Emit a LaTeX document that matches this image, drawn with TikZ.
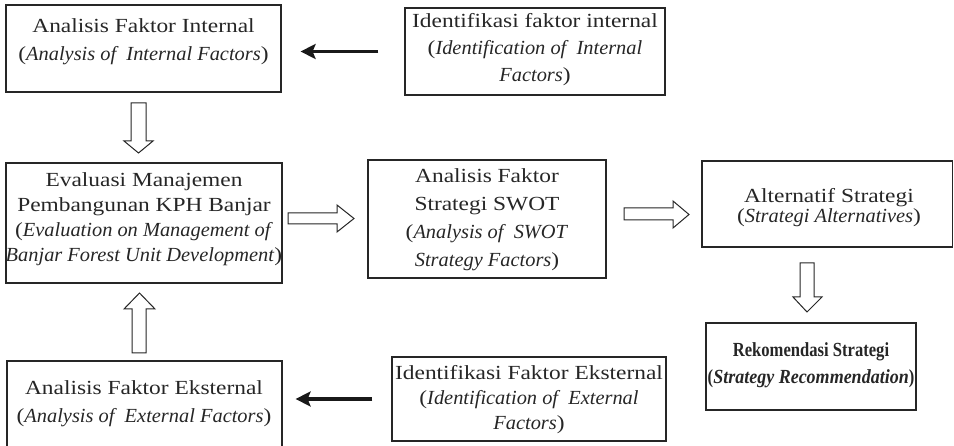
\documentclass[tikz,border=0pt]{standalone}
\usepackage{fontspec}
\setmainfont{Liberation Serif}[UprightFeatures={FakeStretch=1.17},ItalicFeatures={FakeStretch=1.02}]
\newfontfamily\rekfont{Liberation Serif}[BoldFeatures={FakeStretch=0.83},BoldItalicFeatures={FakeStretch=0.9}]
\usetikzlibrary{arrows.meta}
\newcommand{\mylines}[1]{\begin{tabular}[t]{@{}c@{}}#1\end{tabular}}
\begin{document}
\begin{tikzpicture}[x=1pt,y=-1pt,
  box/.style={draw=black!85,line width=1.2pt,inner sep=0pt,fill=none},
  txt/.style={inner sep=0pt,anchor=base,text=black!85},
  blk/.style={line width=3.6pt,draw=black!90,-{Stealth[length=15pt,width=15pt,inset=3pt]}},
  hol/.style={draw=black!85,line width=1pt,fill=white,line join=miter}]
\useasboundingbox (0,0) rectangle (954,446);
% boxes
\node[box,minimum width=275,minimum height=87] (b1) at (143.5,48.5) {};
\node[box,minimum width=260,minimum height=87] (b2) at (535,51.5) {};
\node[box,minimum width=276,minimum height=120] (b3) at (144,223) {};
\node[box,minimum width=238,minimum height=118] (b4) at (487,219) {};
\node[box,minimum width=250.5,minimum height=86] (b5) at (827.25,204) {};
\node[box,minimum width=210,minimum height=87] (b6) at (811,366.5) {};
\node[box,minimum width=275,minimum height=100] (b7) at (144.5,411) {};
\node[box,minimum width=274,minimum height=84] (b8) at (529,399) {};
% texts
\node[txt,font={\fontsize{20}{28}\selectfont}] (t1) at (143.5,33)
  {\mylines{Analisis Faktor Internal\\(\textit{Analysis of\ \ Internal Factors})}};
\node[txt,font={\fontsize{20}{27}\selectfont}] (t2) at (535,28)
  {\mylines{Identifikasi faktor internal\\(\textit{Identification of\ \ Internal}\\\textit{Factors})}};
\node[txt,font={\fontsize{20}{25}\selectfont}] (t3) at (144,187)
  {\mylines{Evaluasi Manajemen\\Pembangunan KPH Banjar\\(\textit{Evaluation on Management of}\\\textit{Banjar Forest Unit Development})}};
\node[txt,font={\fontsize{20}{28}\selectfont}] (t4) at (487,183)
  {\mylines{Analisis Faktor\\Strategi SWOT\\(\textit{Analysis of\ \ SWOT}\\\textit{Strategy Factors})}};
\node[txt,font={\fontsize{20}{20}\selectfont}] (t5) at (829,203)
  {\mylines{Alternatif Strategi\\(\textit{Strategi Alternatives})}};
\node[txt,font={\fontsize{20}{27}\selectfont\rekfont\bfseries}] (t6) at (811,357)
  {\mylines{Rekomendasi Strategi\\(\textit{Strategy Recommendation})}};
\node[txt,font={\fontsize{20}{28}\selectfont}] (t7) at (144,395)
  {\mylines{Analisis Faktor Eksternal\\(\textit{Analysis of\ \ External Factors})}};
\node[txt,font={\fontsize{20}{25}\selectfont}] (t8) at (529,380)
  {\mylines{Identifikasi Faktor Eksternal\\(\textit{Identification of\ \ External}\\\textit{Factors})}};
% black arrows
\draw[blk,shorten <=26pt,shorten >=19pt] (b2.west) -- (b2.west -| b1.east);
\draw[blk,shorten <=19pt,shorten >=13pt] (b8.west) -- (b8.west -| b7.east);
% hollow block arrows
\draw[hol] (131,103) -- (146,103) -- (146,141) -- (153,141) -- (138.5,153) -- (124,141) -- (131,141) -- cycle;
\draw[hol] (132,353) -- (146,353) -- (146,309) -- (155,309) -- (139.5,293) -- (124,309) -- (132,309) -- cycle;
\draw[hol] (288,213) -- (337,213) -- (337,205) -- (354,218.5) -- (337,232) -- (337,224) -- (288,224) -- cycle;
\draw[hol] (624,208) -- (673,208) -- (673,201) -- (689,214.5) -- (673,228) -- (673,220) -- (624,220) -- cycle;
\draw[hol] (800,263) -- (814,263) -- (814,297) -- (822,297) -- (807,312) -- (793,297) -- (800,297) -- cycle;
\end{tikzpicture}
\end{document}
